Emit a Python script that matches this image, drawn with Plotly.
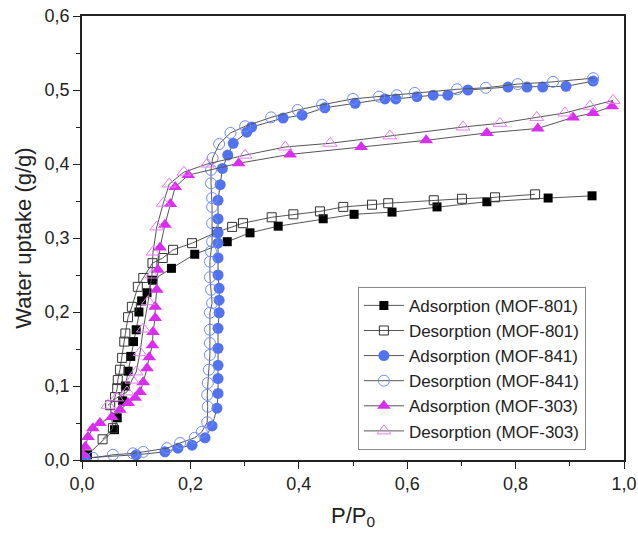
import plotly.graph_objects as go

# MOF-801
ads801_x = [0.01, 0.06, 0.065, 0.075, 0.08, 0.085, 0.09, 0.095, 0.10, 0.105, 0.11, 0.12, 0.13, 0.165, 0.208, 0.268, 0.31, 0.362, 0.445, 0.502, 0.572, 0.655, 0.747, 0.860, 0.941]
ads801_y = [0.007, 0.041, 0.057, 0.08, 0.10, 0.12, 0.14, 0.16, 0.176, 0.20, 0.215, 0.226, 0.243, 0.259, 0.278, 0.295, 0.307, 0.316, 0.326, 0.332, 0.335, 0.342, 0.349, 0.354, 0.357]
des801_x = [0.836, 0.762, 0.701, 0.649, 0.565, 0.535, 0.482, 0.439, 0.39, 0.35, 0.297, 0.277, 0.249, 0.203, 0.168, 0.149, 0.13, 0.113, 0.103, 0.092, 0.085, 0.08, 0.078, 0.074, 0.070, 0.066, 0.065, 0.061, 0.052, 0.057, 0.038]
des801_y = [0.359, 0.355, 0.353, 0.351, 0.347, 0.345, 0.342, 0.336, 0.332, 0.328, 0.320, 0.315, 0.308, 0.293, 0.284, 0.273, 0.266, 0.246, 0.234, 0.207, 0.193, 0.171, 0.16, 0.138, 0.122, 0.108, 0.097, 0.085, 0.074, 0.043, 0.028]

# MOF-841
ads841_x = [0.006, 0.1, 0.153, 0.177, 0.203, 0.227, 0.24, 0.249, 0.251, 0.251, 0.251, 0.251, 0.251, 0.253, 0.253, 0.253, 0.251, 0.251, 0.251, 0.251, 0.251, 0.251, 0.255, 0.259, 0.269, 0.279, 0.304, 0.313, 0.371, 0.406, 0.448, 0.504, 0.559, 0.579, 0.618, 0.648, 0.675, 0.712, 0.786, 0.821, 0.85, 0.893, 0.943]
ads841_y = [0.003, 0.007, 0.011, 0.016, 0.02, 0.03, 0.046, 0.07, 0.09, 0.11, 0.128, 0.151, 0.178, 0.199, 0.216, 0.232, 0.25, 0.273, 0.293, 0.307, 0.326, 0.351, 0.372, 0.394, 0.412, 0.428, 0.443, 0.45, 0.462, 0.466, 0.476, 0.482, 0.488, 0.488, 0.491, 0.493, 0.493, 0.5, 0.504, 0.504, 0.504, 0.505, 0.512]
des841_x = [0.943, 0.869, 0.804, 0.745, 0.692, 0.614, 0.581, 0.548, 0.5, 0.443, 0.398, 0.349, 0.301, 0.274, 0.253, 0.241, 0.238, 0.238, 0.240, 0.240, 0.240, 0.240, 0.238, 0.236, 0.236, 0.238, 0.240, 0.236, 0.236, 0.236, 0.236, 0.234, 0.232, 0.231, 0.232, 0.231, 0.221, 0.208, 0.181, 0.157, 0.113, 0.094, 0.057, 0.02]
des841_y = [0.516, 0.511, 0.508, 0.503, 0.501, 0.496, 0.493, 0.491, 0.488, 0.48, 0.473, 0.463, 0.451, 0.442, 0.427, 0.408, 0.392, 0.374, 0.354, 0.342, 0.32, 0.295, 0.282, 0.268, 0.247, 0.23, 0.212, 0.199, 0.176, 0.158, 0.142, 0.122, 0.104, 0.088, 0.072, 0.051, 0.038, 0.03, 0.023, 0.016, 0.011, 0.009, 0.007, 0.003]

# MOF-303
ads303_x = [0.002, 0.006, 0.011, 0.02, 0.033, 0.055, 0.07, 0.085, 0.098, 0.107, 0.113, 0.12, 0.124, 0.13, 0.131, 0.135, 0.135, 0.138, 0.140, 0.144, 0.153, 0.163, 0.172, 0.196, 0.289, 0.384, 0.515, 0.635, 0.747, 0.841, 0.906, 0.943, 0.978]
ads303_y = [0.007, 0.018, 0.031, 0.043, 0.05, 0.058, 0.068, 0.077, 0.084, 0.092, 0.105, 0.124, 0.139, 0.155, 0.173, 0.192, 0.207, 0.23, 0.257, 0.287, 0.318, 0.346, 0.369, 0.385, 0.401, 0.413, 0.423, 0.432, 0.442, 0.448, 0.463, 0.469, 0.478]
des303_x = [0.98, 0.937, 0.891, 0.839, 0.771, 0.703, 0.568, 0.458, 0.375, 0.301, 0.231, 0.188, 0.161, 0.15, 0.138, 0.131, 0.129, 0.122, 0.113, 0.107, 0.1, 0.092, 0.083, 0.064, 0.048]
des303_y = [0.486, 0.478, 0.469, 0.463, 0.455, 0.45, 0.438, 0.428, 0.423, 0.412, 0.4, 0.389, 0.373, 0.347, 0.315, 0.281, 0.25, 0.214, 0.177, 0.145, 0.119, 0.108, 0.092, 0.084, 0.074]

names = ["Adsorption (MOF-801)", "Desorption (MOF-801)", "Adsorption (MOF-841)",
         "Desorption (MOF-841)", "Adsorption (MOF-303)", "Desorption (MOF-303)"]

LINE = dict(color="#555555", width=1)
FONT = "Liberation Sans, Arial"
fig = go.Figure()

def add(x, y, name, symbol, size, fill, edge, ew):
    fig.add_trace(go.Scatter(
        x=x, y=y, name=name, mode="lines+markers", line=LINE,
        marker=dict(symbol=symbol, size=size, color=fill, line=dict(color=edge, width=ew)),
    ))

add(ads801_x, ads801_y, names[0], "square", 9, "#000000", "#000000", 0)
add(des801_x, des801_y, names[1], "square-open", 9, "#333333", "#333333", 1)
add(ads841_x, ads841_y, names[2], "circle", 11, "#5273f0", "#5273f0", 0)
add(des841_x, des841_y, names[3], "circle-open", 11, "#6f8cff", "#6f8cff", 1)
add(ads303_x, ads303_y, names[4], "triangle-up", 12, "#d92ef0", "#d92ef0", 0)
add(des303_x, des303_y, names[5], "triangle-up-open", 12, "#e77af5", "#e77af5", 1)

axis_common = dict(
    showline=True, linecolor="#222222", linewidth=1.5, mirror=True,
    ticks="outside", ticklen=7, tickwidth=1.2, tickcolor="#222222",
    showgrid=False, zeroline=False, automargin=False,
    tickfont=dict(family=FONT, size=18, color="#222222"),
)

fig.update_layout(
    width=638, height=539,
    margin=dict(l=82, r=14, t=16, b=79),
    plot_bgcolor="white", paper_bgcolor="white",
    separators=",.",
    font=dict(family=FONT, color="#222222"),
    xaxis=dict(range=[0, 1.0], dtick=0.2, tick0=0, tickformat=".1f",
               minor=dict(dtick=0.1, ticks="outside", ticklen=4, tickcolor="#222222"),
               title=dict(text="P/P<sub>0</sub>", font=dict(size=22), standoff=14),
               **axis_common),
    yaxis=dict(range=[0, 0.6], dtick=0.1, tick0=0, tickformat=".1f",
               minor=dict(dtick=0.05, ticks="outside", ticklen=4, tickcolor="#222222"),
               title=dict(text="Water uptake (g/g)", font=dict(size=22), standoff=7),
               **axis_common),
    legend=dict(x=0.509, y=0.39, xanchor="left", yanchor="top",
                bgcolor="white", bordercolor="#888888", borderwidth=1,
                font=dict(family=FONT, size=17, color="#222222"),
                tracegroupgap=0, itemwidth=40),
    showlegend=True,
)

fig.write_html("out.html")
